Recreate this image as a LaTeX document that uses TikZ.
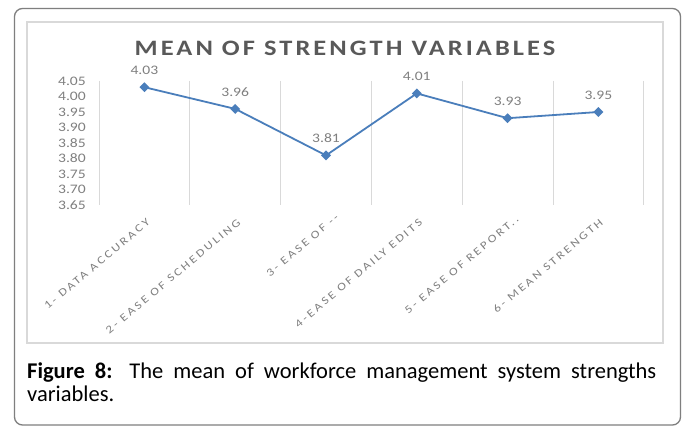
\documentclass[tikz,border=0pt]{standalone}
\usepackage{fontspec}
\newfontfamily\chartfont[FakeStretch=1.2]{Carlito}
\newfontfamily\titlefont[FakeStretch=1.2,LetterSpace=14]{Carlito}
\newfontfamily\catfont[FakeStretch=1.2,LetterSpace=22]{Carlito}
\newfontfamily\capfont{Carlito}
\usetikzlibrary{shapes.geometric}
\definecolor{outerc}{HTML}{7F7F7F}
\definecolor{framec}{HTML}{D9D9D9}
\definecolor{gridc}{HTML}{D9D9D9}
\definecolor{titlec}{HTML}{595959}
\definecolor{labc}{HTML}{808080}
\definecolor{serc}{HTML}{4A7EBB}
\tikzset{
  outerbox/.style={draw=outerc, line width=1.3pt, rounded corners=8pt},
  framebox/.style={draw=framec, line width=1.2pt},
  gridline/.style={draw=gridc, line width=0.9pt},
  ticklab/.style={anchor=east, inner sep=0pt, text=labc, font=\chartfont\fontsize{13}{13}\selectfont},
  datalab/.style={inner sep=0pt, text=labc, font=\chartfont\fontsize{13}{13}\selectfont},
  catlab/.style={anchor=north east, rotate=40, inner sep=0pt, text=labc, font=\catfont\fontsize{11}{11}\selectfont},
  series/.style={draw=serc, line width=1.8pt, line join=round},
  marker/.style={diamond, fill=serc, draw=none, minimum width=10pt, minimum height=10pt, inner sep=0pt},
  titlelab/.style={inner sep=0pt, text=titlec, font=\titlefont\bfseries\fontsize{22}{22}\selectfont},
  caplab/.style={anchor=north west, inner sep=0pt, text width=629pt, align=justify, font={\capfont\fontsize{22.5}{22.5}\selectfont}}
}
\begin{document}
\begin{tikzpicture}[x=1pt,y=-1pt]
\useasboundingbox (0,0) rectangle (685,427);
\fill[white] (0,0) rectangle (685,427);
\draw[outerbox] (14.5,8.5) rectangle (680.5,425);
\draw[framebox] (27,22) rectangle (663,343);
\node[titlelab] (title) at (345,48) {MEAN OF STRENGTH VARIABLES};
% gridlines
\foreach \i in {0,...,6} {
  \draw[gridline] ({99+90.8*\i},81) -- ({99+90.8*\i},205);
}
% y tick labels
\foreach \v/\t in {4.05/4.05,4.00/4.00,3.95/3.95,3.90/3.90,3.85/3.85,3.80/3.80,3.75/3.75,3.70/3.70,3.65/3.65} {
  \node[ticklab] at (86,{81+(4.05-\v)*310}) {\t};
}
% data
\foreach \i/\v/\t in {1/4.03/4.03,2/3.96/3.96,3/3.81/3.81,4/4.01/4.01,5/3.93/3.93,6/3.95/3.95} {
  \coordinate (p\i) at ({144.4+90.8*(\i-1)},{81+(4.05-\v)*310});
}
\draw[series] (p1) -- (p2) -- (p3) -- (p4) -- (p5) -- (p6);
\foreach \i/\t in {1/4.03,2/3.96,3/3.81,4/4.01,5/3.93,6/3.95} {
  \node[marker] (m\i) at (p\i) {};
  \node[datalab] (d\i) at ([yshift=17pt]p\i) {\t};
}
% category labels
\node[catlab] (c1) at (146,218) {1- DATA ACCURACY};
\node[catlab] (c2) at (236.8,218) {2- EASE OF SCHEDULING};
\node[catlab] (c3) at (335,213) {3- EASE OF --};
\node[catlab] (c4) at (418.4,218) {4-EASE OF DAILY EDITS};
\node[catlab] (c5) at (515,215) {5- EASE OF REPORT..};
\node[catlab] (c6) at (599,218) {6- MEAN STRENGTH};
% caption
\node[caplab] (cap) at (27,363) {\textbf{Figure 8:} The mean of workforce management system strengths \mbox{variables.}};
\end{tikzpicture}
\end{document}
